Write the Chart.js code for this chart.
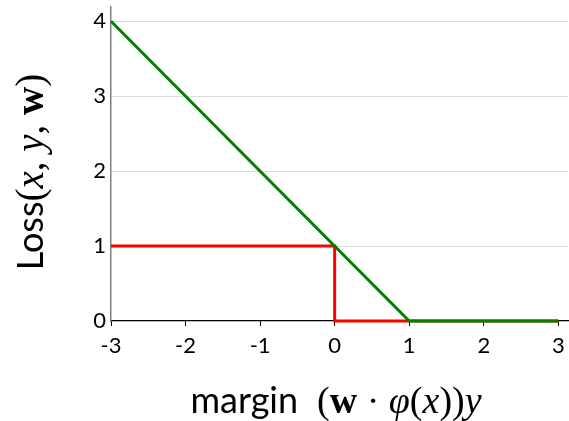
<!DOCTYPE html>
<html>
<head>
<meta charset="utf-8">
<script src="https://cdn.jsdelivr.net/npm/chart.js@4"></script>
<style>
  html, body { margin: 0; padding: 0; background: #fff; }
  #wrap { width: 569px; height: 421px; }
</style>
</head>
<body>
<div id="wrap"><canvas id="grafico"></canvas></div>
<script>
// zero-one loss and hinge loss vs margin
const zeroOneX = [-3, 0, 0, 3];
const zeroOneLoss = [1, 1, 0, 0];
const hingeX = [-3, 1, 3];
const hingeLoss = [4, 0, 0];
const xTicks = [-3, -2, -1, 0, 1, 2, 3];
const yTicks = [0, 1, 2, 3, 4];

const sans = 'Lato, "DejaVu Sans", sans-serif';
const serif = '"Liberation Serif", "DejaVu Serif", serif';

const pts = (xs, ys) => xs.map((x, i) => ({ x: x, y: ys[i] }));

// draw a title made of pieces in different fonts
function drawRich(ctx, segs, cx, cy, rot) {
    ctx.save();
    ctx.translate(cx, cy);
    if (rot) ctx.rotate(rot);
    let total = 0;
    segs.forEach(s => { ctx.font = s[1]; total += ctx.measureText(s[0]).width; });
    let x = -total / 2;
    ctx.fillStyle = '#000';
    ctx.textBaseline = 'alphabetic';
    ctx.textAlign = 'left';
    segs.forEach(s => {
        ctx.font = s[1];
        ctx.fillText(s[0], x, 0);
        x += ctx.measureText(s[0]).width;
    });
    ctx.restore();
}

const titles = {
    id: 'titles',
    afterDraw(chart) {
        const ctx = chart.ctx;
        const f = '38px ' + serif;
        drawRich(ctx, [
            ['margin', '36px ' + sans],
            ['  (', f],
            ['w', 'bold ' + f],
            [' · ', f],
            ['φ', 'italic ' + f],
            ['(', f],
            ['x', 'italic ' + f],
            ['))', f],
            ['y', 'italic ' + f]
        ], 336, 413, 0);
        const g = '39px ' + serif;
        drawRich(ctx, [
            ['Loss', '36px ' + sans],
            ['(', g],
            ['x', 'italic ' + g],
            [', ', g],
            ['y', 'italic ' + g],
            [', ', g],
            ['w', 'bold ' + g],
            [')', g]
        ], 43, 172, -Math.PI / 2);
    }
};

const ctx = document.getElementById('grafico');

new Chart(ctx, {
    type: 'scatter',
    data: {
        datasets: [{
            label: 'hinge',
            data: pts(hingeX, hingeLoss),
            showLine: true,
            borderColor: '#008000',
            borderWidth: 3,
            pointRadius: 0,
            tension: 0,
            clip: 6
        }, {
            label: 'zero-one',
            data: pts(zeroOneX, zeroOneLoss),
            showLine: true,
            borderColor: '#ff0000',
            borderWidth: 3,
            pointRadius: 0,
            tension: 0,
            clip: 6
        }]
    },
    options: {
        responsive: true,
        maintainAspectRatio: false,
        animation: false,
        layout: { padding: { top: 7, right: 1, left: 0, bottom: 0 } },
        plugins: {
            legend: { display: false },
            tooltip: { enabled: false }
        },
        scales: {
            x: {
                type: 'linear',
                min: -3,
                max: 3.13,
                afterBuildTicks: s => { s.ticks = xTicks.map(v => ({ value: v })); },
                afterFit: s => { s.height = 100; s.paddingLeft = 0; s.paddingRight = 0; },
                border: { display: true, color: '#000', width: 1.2 },
                grid: {
                    drawOnChartArea: false,
                    drawTicks: true,
                    tickLength: 5,
                    tickColor: '#000'
                },
                ticks: {
                    color: '#000',
                    padding: 7,
                    font: { family: sans, size: 22 }
                }
            },
            y: {
                type: 'linear',
                min: 0,
                max: 4.19,
                afterBuildTicks: s => { s.ticks = yTicks.map(v => ({ value: v })); },
                afterFit: s => { s.width = 111; s.paddingTop = 0; s.paddingBottom = 0; },
                border: { display: true, color: '#808080', width: 1.5 },
                grid: {
                    drawTicks: false,
                    color: c => (c.tick && c.tick.value === 0) ? 'rgba(0,0,0,0)' : '#dcdcdc',
                    lineWidth: 1
                },
                ticks: {
                    color: '#000',
                    padding: 5,
                    font: { family: sans, size: 22 }
                }
            }
        }
    },
    plugins: [titles]
});
</script>
</body>
</html>
